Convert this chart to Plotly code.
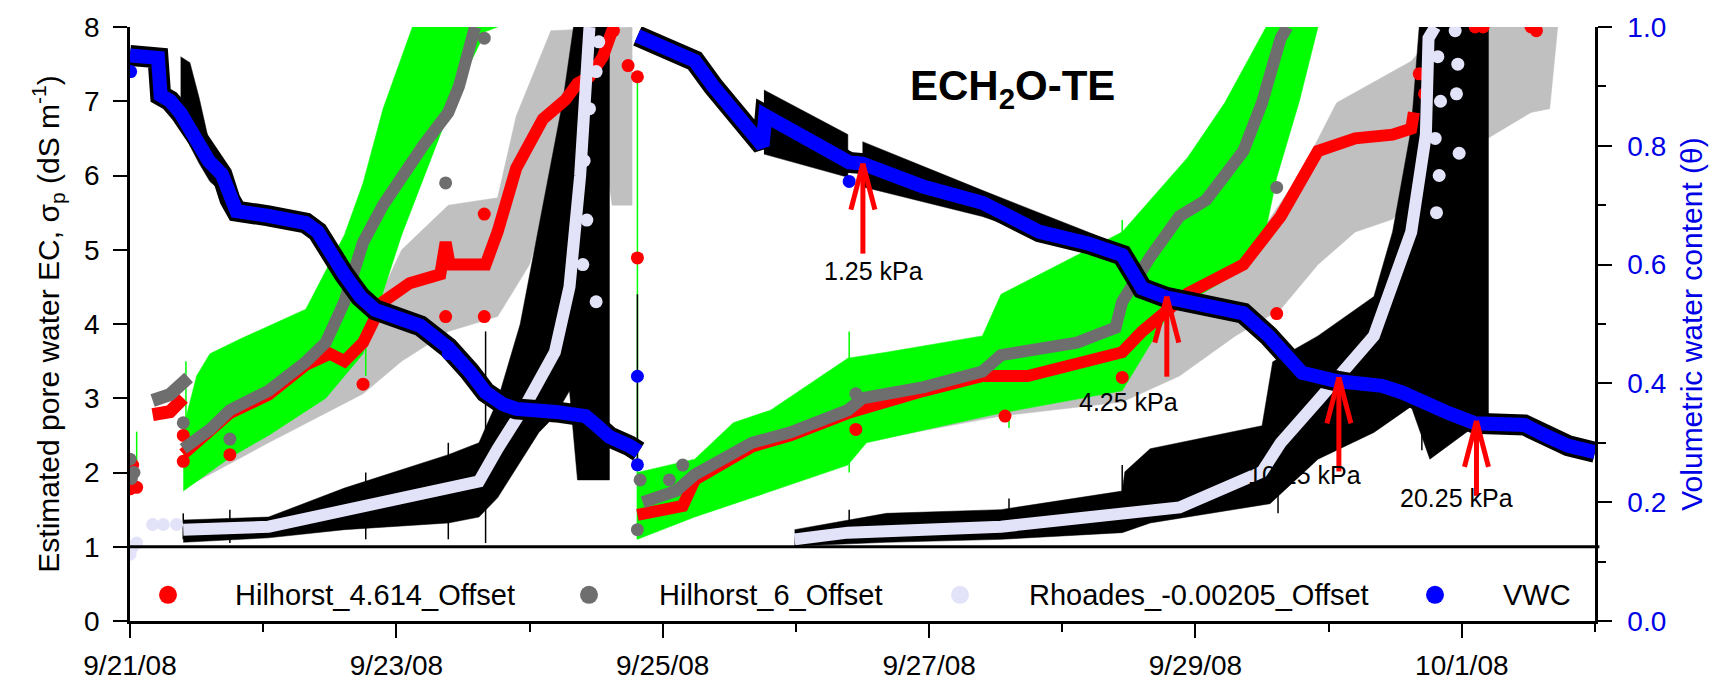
import pandas as pd
import plotly.graph_objects as go

BASE = pd.Timestamp("2008-09-21")

# ---------------- data (days since 9/21/08 00:00) ----------------
# VWC (blue, right axis)
vwc_a_days = [0.00, 0.10, 0.21, 0.23, 0.30, 0.38, 0.45, 0.52, 0.59, 0.69, 0.75, 0.80, 1.04, 1.32, 1.41, 1.49,
              1.61, 1.73, 1.84, 2.18, 2.39, 2.55, 2.67, 2.80, 2.90, 3.20, 3.42, 3.50, 3.60, 3.75, 3.82]
vwc_a = [0.952, 0.950, 0.948, 0.885, 0.876, 0.855, 0.83, 0.805, 0.775, 0.752, 0.71, 0.69, 0.682, 0.67, 0.655, 0.622,
         0.583, 0.546, 0.524, 0.497, 0.46, 0.42, 0.385, 0.365, 0.357, 0.352, 0.345, 0.33, 0.31, 0.295, 0.285]
vwc_b_days = [3.81, 3.95, 4.10, 4.24, 4.38, 4.53, 4.75, 4.77, 5.00, 5.20, 5.40, 5.50, 5.96, 6.40, 6.57, 6.83, 7.20,
              7.45, 7.52, 7.60, 7.78, 8.10, 8.36, 8.55, 8.70, 8.80, 9.06, 9.40, 9.55, 9.68, 9.90, 10.10, 10.47,
              10.63, 10.80, 11.0]
vwc_b = [0.985, 0.970, 0.958, 0.943, 0.900, 0.856, 0.800, 0.851, 0.820, 0.795, 0.772, 0.770, 0.731, 0.704, 0.682,
         0.655, 0.635, 0.616, 0.590, 0.560, 0.545, 0.530, 0.518, 0.480, 0.440, 0.418, 0.404, 0.396, 0.385, 0.371,
         0.350, 0.333, 0.330, 0.312, 0.295, 0.284]
vwc_dot_days = [0.005, 3.81, 3.81, 5.40, 2.39]
vwc_dots = [0.925, 0.412, 0.263, 0.740, 0.450]

# raw VWC (black band around blue)
vraw1_up_d = [0.38, 0.45, 0.52, 0.60, 0.70, 0.80]
vraw1_up = [0.95, 0.94, 0.88, 0.80, 0.77, 0.70]
vraw1_lo_d = [0.38, 0.45, 0.52, 0.60, 0.70, 0.80]
vraw1_lo = [0.84, 0.80, 0.77, 0.74, 0.72, 0.675]
vraw2_up_d = [4.76, 5.39]
vraw2_up = [0.894, 0.819]
vraw2_lo_d = [4.76, 5.39]
vraw2_lo = [0.786, 0.747]
vraw3_up_d = [5.50, 6.40, 7.45]
vraw3_up = [0.807, 0.725, 0.632]
vraw3_lo_d = [5.50, 6.40, 7.45]
vraw3_lo = [0.731, 0.681, 0.600]

# Hilhorst_4.614_Offset (red)
red1_days = [0.40, 0.60, 0.75, 1.04, 1.32, 1.50, 1.61, 1.75, 1.90, 2.10, 2.33, 2.37, 2.40, 2.67, 2.76, 2.90, 3.10,
             3.27, 3.36, 3.45, 3.55, 3.63]
red1 = [2.25, 2.55, 2.80, 3.05, 3.45, 3.60, 3.50, 3.75, 4.30, 4.55, 4.67, 5.10, 4.80, 4.80, 5.24, 6.10, 6.76,
        7.02, 7.24, 7.33, 7.60, 8.00]
red_early_days = [0.17, 0.30, 0.40]
red_early = [2.78, 2.82, 3.00]
red2_days = [3.81, 4.15, 4.24, 4.67, 4.96, 5.39, 5.96, 6.40, 6.74, 7.10, 7.45, 7.60, 7.94, 8.36, 8.64, 8.92, 9.20,
             9.48, 9.62, 9.64]
red2 = [1.43, 1.55, 1.90, 2.35, 2.50, 2.80, 3.10, 3.30, 3.30, 3.45, 3.62, 3.90, 4.41, 4.80, 5.45, 6.33, 6.50,
        6.55, 6.63, 6.85]
red_dot_days = [0.00, 0.01, 0.02, 0.05, 0.40, 0.40, 0.75, 1.75, 2.37, 2.66, 2.66, 3.63, 3.74, 3.81, 3.81, 5.45,
                6.57, 7.45, 8.61, 9.68, 9.72, 10.10, 10.16, 10.52, 10.56]
red_dots = [1.78, 1.85, 2.10, 1.80, 2.15, 2.50, 2.24, 3.19, 4.10, 4.10, 5.48, 7.95, 7.48, 7.33, 4.89, 2.58,
            2.76, 3.28, 4.14, 7.37, 7.10, 8.00, 8.00, 8.00, 7.95]

# Hilhorst_6_Offset (gray)
gray1_days = [0.40, 0.60, 0.75, 1.04, 1.32, 1.47, 1.61, 1.75, 1.90, 2.04, 2.20, 2.39, 2.47, 2.59]
gray1 = [2.32, 2.58, 2.84, 3.10, 3.49, 3.75, 4.30, 5.10, 5.60, 6.00, 6.40, 6.85, 7.20, 8.00]
gray_early_days = [0.17, 0.30, 0.44]
gray_early = [2.97, 3.05, 3.28]
gray2_days = [3.85, 3.95, 4.10, 4.24, 4.38, 4.67, 4.96, 5.39, 5.50, 5.96, 6.40, 6.54, 7.11, 7.40, 7.45, 7.66, 7.88,
              8.08, 8.36, 8.50, 8.64, 8.69]
gray2 = [1.60, 1.66, 1.75, 1.97, 2.10, 2.40, 2.54, 2.84, 3.00, 3.15, 3.36, 3.58, 3.75, 3.95, 4.30, 4.90, 5.45,
         5.67, 6.33, 6.98, 7.85, 8.00]
gray_dot_days = [0.00, 0.01, 0.03, 0.40, 0.75, 2.37, 2.66, 3.81, 3.83, 4.05, 4.15, 5.45, 8.61]
gray_dots = [2.18, 1.92, 2.00, 2.67, 2.45, 5.90, 7.85, 1.23, 1.90, 1.90, 2.10, 3.06, 5.84]

# Rhoades_-0.00205_Offset (lavender)
lav1_days = [0.40, 1.04, 1.61, 2.39, 2.62, 2.76, 2.99, 3.19, 3.30, 3.38, 3.45]
lav1 = [1.23, 1.27, 1.49, 1.79, 1.88, 2.32, 2.97, 3.62, 4.50, 6.00, 8.00]
lav2_days = [4.99, 5.39, 6.54, 7.45, 7.88, 8.50, 8.64, 8.92, 9.34, 9.62, 9.73, 9.75, 9.80]
lav2 = [1.10, 1.19, 1.27, 1.45, 1.53, 2.01, 2.40, 2.97, 3.84, 5.24, 6.55, 7.85, 8.00]
lav_dot_days = [0.00, 0.02, 0.05, 0.17, 0.25, 0.35, 3.40, 3.43, 3.41, 3.45, 3.50, 3.52, 3.50,
                9.82, 9.84, 9.80, 9.83, 9.81, 9.95, 9.97, 9.96, 9.98]
lav_dots = [0.90, 1.00, 1.05, 1.30, 1.30, 1.30, 4.80, 5.40, 6.20, 6.90, 7.40, 7.80, 4.30,
            7.60, 7.00, 6.50, 6.00, 5.50, 7.95, 7.50, 7.10, 6.30]

# raw Rhoades (black band)
blk1_up_d = [0.40, 1.04, 1.61, 2.39, 2.62, 2.76, 2.93, 3.10, 3.25, 3.33, 3.60]
blk1_up = [1.36, 1.40, 1.79, 2.24, 2.40, 2.97, 4.00, 5.60, 7.00, 8.00, 8.00]
blk1_lo_d = [0.40, 1.04, 1.61, 2.39, 2.62, 2.76, 3.07, 3.19, 3.30, 3.36, 3.60]
blk1_lo = [1.06, 1.12, 1.23, 1.32, 1.40, 1.66, 2.54, 2.76, 3.10, 1.90, 1.90]
blk2_up_d = [4.99, 5.68, 6.54, 7.45, 7.47, 7.66, 8.50, 8.58, 8.92, 9.34, 9.48, 9.62, 9.68, 10.20]
blk2_up = [1.23, 1.45, 1.50, 1.75, 2.01, 2.32, 2.63, 3.49, 3.84, 4.37, 5.24, 6.63, 8.00, 8.00]
blk2_lo_d = [4.99, 5.68, 6.54, 7.45, 7.66, 8.56, 8.92, 9.34, 9.62, 9.76, 10.20]
blk2_lo = [1.01, 1.06, 1.10, 1.19, 1.32, 1.58, 2.18, 2.54, 2.89, 2.18, 2.76]

# raw Hilhorst_6 (green band)
grn1_up_d = [0.40, 0.50, 0.60, 0.83, 1.32, 1.61, 1.75, 1.90, 2.12, 2.76]
grn1_up = [2.60, 3.30, 3.60, 3.80, 4.20, 5.20, 5.90, 6.90, 8.00, 8.00]
grn1_lo_d = [0.40, 0.75, 1.04, 1.47, 1.75, 2.04, 2.33, 2.47, 2.67, 2.76]
grn1_lo = [1.75, 2.20, 2.50, 3.00, 3.60, 5.20, 6.55, 7.20, 7.94, 8.00]
grn2_up_d = [3.81, 4.24, 4.53, 4.81, 5.39, 5.68, 6.40, 6.54, 7.45, 7.66, 7.94, 8.22, 8.53, 8.92]
grn2_up = [2.00, 2.18, 2.67, 2.84, 3.54, 3.62, 3.84, 4.40, 5.24, 5.67, 6.24, 6.98, 8.00, 8.00]
grn2_lo_d = [3.81, 4.24, 4.67, 5.39, 5.53, 6.54, 7.45, 7.80, 8.22, 8.50, 8.61, 8.78, 8.92]
grn2_lo = [1.10, 1.40, 1.66, 2.10, 2.40, 2.80, 3.10, 4.14, 4.59, 5.02, 5.97, 7.00, 8.00]

# raw Hilhorst_4.614 (silver band)
slv1_up_d = [0.46, 1.04, 1.75, 2.04, 2.39, 2.76, 2.90, 3.16, 3.77]
slv1_up = [2.20, 2.90, 3.90, 5.00, 5.60, 5.70, 6.80, 7.95, 8.00]
slv1_lo_d = [0.46, 1.04, 1.75, 2.04, 2.39, 2.76, 3.00, 3.16, 3.40, 3.55, 3.62, 3.77]
slv1_lo = [1.84, 2.40, 3.06, 3.50, 3.90, 4.10, 4.80, 5.80, 6.80, 6.50, 5.60, 5.60]
slv2_up_d = [4.40, 5.39, 6.54, 7.45, 7.88, 8.36, 8.78, 9.06, 9.62, 9.84, 10.71]
slv2_up = [2.00, 2.60, 3.20, 3.60, 4.30, 4.90, 6.00, 6.98, 7.54, 8.00, 8.00]
slv2_lo_d = [4.40, 4.47, 5.39, 5.47, 6.54, 7.45, 7.88, 8.30, 8.64, 8.92, 9.20, 9.48, 9.75, 10.24, 10.52, 10.66, 10.72]
slv2_lo = [1.60, 1.71, 2.18, 2.40, 2.76, 2.95, 3.30, 3.84, 4.20, 4.80, 5.24, 5.41, 6.00, 6.55, 6.85, 6.90, 8.00]

# thin raw-data spikes (left-axis units): black and green
blk_spike_days = [0.40, 0.75, 1.55, 1.77, 2.39, 2.67, 3.81, 5.40, 6.60, 7.45, 8.62, 9.70]
blk_spike_lo = [1.10, 1.05, 1.30, 1.10, 1.10, 1.05, 2.10, 1.05, 1.15, 1.25, 1.45, 2.30]
blk_spike_hi = [1.45, 1.50, 1.60, 2.00, 2.40, 3.90, 4.40, 1.50, 1.65, 2.10, 2.60, 3.20]
grn_spike_days = [0.05, 0.42, 1.77, 3.81, 5.40, 6.60, 7.45]
grn_spike_lo = [2.00, 1.80, 3.30, 1.10, 2.00, 2.60, 3.20]
grn_spike_hi = [2.55, 3.50, 5.80, 7.40, 3.90, 4.30, 5.40]

# arrows: (label, tip day, tip VWC)
arrow_labels = ["1.25 kPa", "4.25 kPa", "10.25 kPa", "20.25 kPa"]
arrow_days = [5.503, 7.785, 9.077, 10.11]
arrow_vwc = [0.770, 0.546, 0.410, 0.337]

legend_names = ["Hilhorst_4.614_Offset", "Hilhorst_6_Offset", "Rhoades_-0.00205_Offset", "VWC"]

# ---------------- helpers ----------------
RED, GRAY, LAV, BLUE = "#FF0000", "#6E6E6E", "#E2E2F8", "#0000FF"
GREEN, SILVER, BLACK = "#00FF00", "#C0C0C0", "#000000"
FONT = "Liberation Sans, Arial, sans-serif"


def T(days):
    return [BASE + pd.Timedelta(days=d) for d in days]


def band(ud, uy, ld, ly, color, yaxis="y"):
    return go.Scatter(x=T(ud) + T(ld[::-1]), y=list(uy) + list(ly[::-1]), fill="toself", fillcolor=color,
                      mode="lines", line=dict(width=0.5, color=color), hoverinfo="skip", showlegend=False,
                      yaxis=yaxis)


def curve(days, vals, color, width, yaxis="y"):
    return go.Scatter(x=T(days), y=vals, mode="lines", line=dict(color=color, width=width),
                      showlegend=False, yaxis=yaxis)


def dots(days, vals, color, size, yaxis="y"):
    return go.Scatter(x=T(days), y=vals, mode="markers", marker=dict(color=color, size=size),
                      showlegend=False, yaxis=yaxis)


def spikes(days, lo, hi, color, width):
    xs, ys = [], []
    for d, a, b in zip(days, lo, hi):
        t = BASE + pd.Timedelta(days=d)
        xs += [t, t, None]
        ys += [a, b, None]
    return go.Scatter(x=xs, y=ys, mode="lines", line=dict(color=color, width=width), showlegend=False,
                      hoverinfo="skip")


fig = go.Figure()
# bands
fig.add_trace(band(slv1_up_d, slv1_up, slv1_lo_d, slv1_lo, SILVER))
fig.add_trace(band(slv2_up_d, slv2_up, slv2_lo_d, slv2_lo, SILVER))
fig.add_trace(band(grn1_up_d, grn1_up, grn1_lo_d, grn1_lo, GREEN))
fig.add_trace(band(grn2_up_d, grn2_up, grn2_lo_d, grn2_lo, GREEN))
fig.add_trace(spikes(grn_spike_days, grn_spike_lo, grn_spike_hi, GREEN, 1.5))
fig.add_trace(band(blk1_up_d, blk1_up, blk1_lo_d, blk1_lo, BLACK))
fig.add_trace(band(blk2_up_d, blk2_up, blk2_lo_d, blk2_lo, BLACK))
fig.add_trace(spikes(blk_spike_days, blk_spike_lo, blk_spike_hi, BLACK, 1.5))
# red
fig.add_trace(curve(red1_days, red1, RED, 12))
fig.add_trace(curve(red_early_days, red_early, RED, 13))
fig.add_trace(curve(red2_days, red2, RED, 12))
fig.add_trace(dots(red_dot_days, red_dots, RED, 13))
# gray
fig.add_trace(curve(gray1_days, gray1, GRAY, 12))
fig.add_trace(curve(gray_early_days, gray_early, GRAY, 13))
fig.add_trace(curve(gray2_days, gray2, GRAY, 12))
fig.add_trace(dots(gray_dot_days, gray_dots, GRAY, 13))
# lavender
fig.add_trace(curve(lav1_days, lav1, LAV, 12))
fig.add_trace(curve(lav2_days, lav2, LAV, 12))
fig.add_trace(dots(lav_dot_days, lav_dots, LAV, 13))
# VWC raw (black) on y2
fig.add_trace(band(vraw1_up_d, vraw1_up, vraw1_lo_d, vraw1_lo, BLACK, "y2"))
fig.add_trace(band(vraw2_up_d, vraw2_up, vraw2_lo_d, vraw2_lo, BLACK, "y2"))
fig.add_trace(band(vraw3_up_d, vraw3_up, vraw3_lo_d, vraw3_lo, BLACK, "y2"))
fig.add_trace(curve(vwc_a_days, vwc_a, BLACK, 21, "y2"))
fig.add_trace(curve(vwc_b_days, vwc_b, BLACK, 21, "y2"))
# VWC blue
fig.add_trace(curve(vwc_a_days, vwc_a, BLUE, 14, "y2"))
fig.add_trace(curve(vwc_b_days, vwc_b, BLUE, 14, "y2"))
fig.add_trace(dots(vwc_dot_days, vwc_dots, BLUE, 13, "y2"))

# ---------------- layout ----------------
W, H = 1736, 693
ML, MR, MT, MB = 130, 141, 22, 59
PW, PH = W - ML - MR, H - MT - MB


def px(x):
    return (x - ML) / PW


def py(y):
    return (H - MB - y) / PH


DAY = 86400000
fig.update_layout(
    width=W, height=H, margin=dict(l=ML, r=MR, t=MT, b=MB, pad=0),
    paper_bgcolor="white", plot_bgcolor="white", showlegend=False,
    font=dict(family=FONT, color="black", size=28),
    xaxis=dict(type="date", range=[BASE, BASE + pd.Timedelta(days=11)], tickformat="%-m/%-d/%y",
               tick0=BASE, dtick=2 * DAY, ticks="outside", ticklen=14, tickwidth=2, tickcolor="black",
               showline=True, linewidth=2.5, linecolor="black", showgrid=False, zeroline=False,
               tickfont=dict(size=28), ticklabelstandoff=4,
               minor=dict(dtick=DAY, tick0=BASE, ticks="outside", ticklen=8, tickwidth=2, tickcolor="black",
                          showgrid=False)),
    yaxis=dict(range=[0, 8], dtick=1, ticks="outside", ticklen=14, tickwidth=2, tickcolor="black",
               showline=True, linewidth=2.5, linecolor="black", showgrid=False, zeroline=False,
               tickfont=dict(size=28), ticklabelstandoff=8,
               title=dict(text="Estimated pore water EC, σ<sub>p</sub> (dS m<sup>-1</sup>)",
                          font=dict(size=30), standoff=16)),
    yaxis2=dict(range=[0, 1], dtick=0.2, tickformat=".1f", overlaying="y", side="right", ticks="outside",
                ticklen=14, tickwidth=2, tickcolor="black", showline=True, linewidth=2.5, linecolor="black",
                showgrid=False, zeroline=False, tickfont=dict(size=28, color="#0000E6"), ticklabelstandoff=10,
                minor=dict(dtick=0.1, ticks="outside", ticklen=8, tickwidth=2, tickcolor="black", showgrid=False),
                title=dict(text="Volumetric water content (θ)", font=dict(size=30, color="#0000E6"), standoff=16)),
)

shapes = [dict(type="line", xref="paper", yref="y", x0=0, x1=1.003, y0=1, y1=1,
               line=dict(color="black", width=3))]
annotations = [dict(text="<b>ECH<sub>2</sub>O-TE</b>", xref="paper", yref="paper", x=px(1012), y=py(56),
                    showarrow=False, font=dict(size=42, color="black"))]

# legend (manual)
leg_dot_x = [168, 589, 960, 1435]
leg_txt_x = [233, 657, 1027, 1501]
leg_cols = [RED, GRAY, LAV, BLUE]
LEG_Y = 607
for name, dx, tx, c in zip(legend_names, leg_dot_x, leg_txt_x, leg_cols):
    shapes.append(dict(type="circle", xref="paper", yref="paper", xsizemode="pixel", ysizemode="pixel",
                       xanchor=px(dx), yanchor=py(LEG_Y), x0=-9, x1=9, y0=-9, y1=9,
                       fillcolor=c, line=dict(width=0)))
    annotations.append(dict(text=name, xref="paper", yref="paper", x=px(tx), y=py(LEG_Y), xanchor="left",
                            yanchor="middle", showarrow=False, font=dict(size=29, color="black")))

# arrows (drawn as pixel-sized line shapes anchored at the tip on the VWC curve)
shaft_len = [90, 80, 94, 75]
label_xy = [(873, 273), (1180, 408), (1363, 500), (1515, 524)]
for lab, d, v, L, (lx, ly) in zip(arrow_labels, arrow_days, arrow_vwc, shaft_len, label_xy):
    xd = BASE + pd.Timedelta(days=d)
    for x1, y1 in [(0, -L), (-12, -46), (12, -46)]:
        shapes.append(dict(type="line", xref="x", yref="y2", xsizemode="pixel", ysizemode="pixel",
                           xanchor=xd, yanchor=v, x0=0, y0=0, x1=x1, y1=y1,
                           line=dict(color="#FF0000", width=5)))
    annotations.append(dict(text=lab, xref="paper", yref="paper", x=px(lx), y=py(ly), showarrow=False,
                            font=dict(size=25, color="black")))

fig.update_layout(shapes=shapes, annotations=annotations)
fig.write_html("out.html")
